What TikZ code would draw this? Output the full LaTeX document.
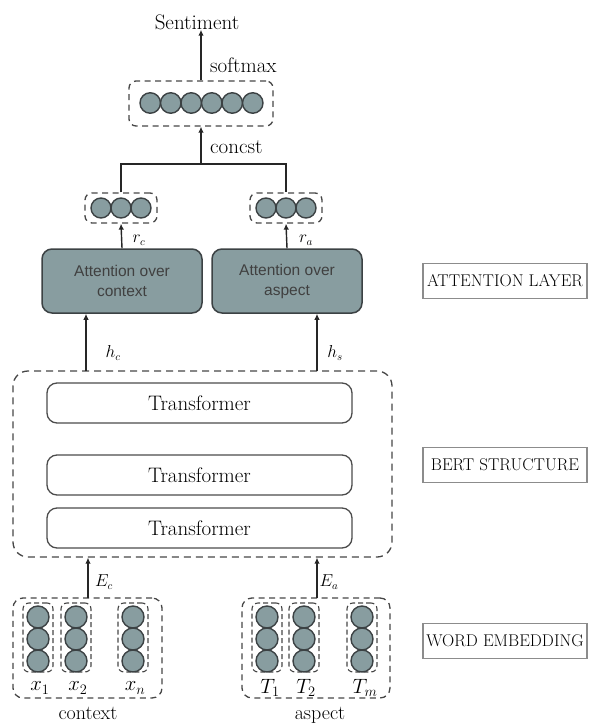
\documentclass[tikz,border=0pt]{standalone}
\usepackage{fontspec}
\newfontfamily\arialfont{Liberation Sans}
\usetikzlibrary{arrows.meta}
\definecolor{cfill}{RGB}{136,157,160}
\definecolor{cline}{RGB}{60,66,68}
\definecolor{dline}{RGB}{70,70,70}
\tikzset{
  bigtxt/.style={font=\fontsize{21}{24}\selectfont, inner sep=0pt},
  mtxt/.style={font=\fontsize{16}{19}\selectfont, inner sep=0pt},
  dbox/.style={draw=dline, line width=1.3pt, dash pattern=on 6pt off 4.5pt, rounded corners=7pt, inner sep=0pt},
  bertbox/.style={draw=dline, line width=1.3pt, dash pattern=on 7pt off 5pt, rounded corners=15pt, inner sep=0pt, minimum width=379pt, minimum height=186pt},
  cbox/.style={draw=dline, line width=1.1pt, dash pattern=on 5pt off 3pt, rounded corners=6pt, inner sep=0pt, minimum width=30pt, minimum height=69pt},
  ball/.style={circle, draw=cline, line width=1.4pt, fill=cfill, inner sep=0pt, minimum size=#1},
  ball/.default=20.5pt,
  attbox/.style={draw=cline, line width=1.5pt, fill=cfill, rounded corners=10pt, minimum height=64pt, align=center, font=\arialfont\fontsize{15.5}{20}\selectfont, text=black!75},
  tbox/.style={draw=black!70, line width=1.3pt, rounded corners=10pt, minimum width=305pt, minimum height=40pt, font=\fontsize{21}{24}\selectfont},
  lbox/.style={draw=black!45, line width=1.2pt, minimum width=164pt, minimum height=35pt, inner xsep=1pt, font=\fontsize{17}{20}\selectfont},
  arr/.style={line width=1.4pt, draw=black!85, -{Latex[length=6pt,width=5.5pt]}},
  ln/.style={line width=1.4pt, draw=black!85}
}
\begin{document}
\begin{tikzpicture}[x=1pt,y=-1pt]
\useasboundingbox (0,0) rectangle (591,725);

% top
\node[bigtxt] (sent) at (197,22) {Sentiment};
\node[dbox, minimum width=144pt, minimum height=45pt] (sbox) at (201,103.5) {};
\foreach \i in {0,...,5} {
  \node[ball] (s\i) at ({150.25+20.5*\i},103) {};
}
\draw[arr] (sbox.north) -- (sbox.north |- sent.south) coordinate (stop);
\node[bigtxt, anchor=west] (softlbl) at (210,65) {softmax};

% small boxes
\node[dbox, minimum width=72pt, minimum height=30pt] (lsm) at (121,208) {};
\foreach \i in {0,1,2} { \node[ball=20pt] (lc\i) at ({101+20*\i},208) {}; }
\node[dbox, minimum width=72pt, minimum height=30pt] (rsm) at (286,208) {};
\foreach \i in {0,1,2} { \node[ball=20pt] (rc\i) at ({266+20*\i},208) {}; }
\coordinate (cat) at (201,164);
\draw[ln] (lsm.north) |- (cat) -| (rsm.north);
\draw[arr] (cat) -- (sbox.south);
\node[bigtxt, anchor=west] (catlbl) at (210,147) {concst};

% attention boxes
\node[attbox, minimum width=160pt] (latt) at (122,281) {Attention over\\context};
\node[attbox, minimum width=150pt] (ratt) at (287,281) {Attention over\\aspect};
\draw[arr] (latt.north) -- (lsm.south);
\draw[arr] (ratt.north) -- (rsm.south);
\node[mtxt] (rclbl) at (139,240) {$r_c$};
\node[mtxt] (ralbl) at (306,240) {$r_a$};

% BERT
\node[bertbox] (bert) at (202.5,464) {};
\node[tbox] (t1) at (199.5,403) {Transformer};
\node[tbox] (t2) at (199.5,475) {Transformer};
\node[tbox] (t3) at (199.5,528) {Transformer};
\coordinate (hc) at (86,371);
\coordinate (hs) at (317,371);
\draw[arr] (hc) -- (hc |- latt.south);
\draw[arr] (hs) -- (hs |- ratt.south);
\node[mtxt] (hclbl) at (113,353) {$h_c$};
\node[mtxt] (hslbl) at (335,353) {$h_s$};

% word embedding
\node[dbox, minimum width=149pt, minimum height=100pt, rounded corners=10pt] (lwe) at (87.5,648) {};
\node[dbox, minimum width=148pt, minimum height=100pt, rounded corners=10pt] (rwe) at (316,648) {};
\foreach \n/\x in {a/38,b/76,c/133,d/267,e/304,f/362} {
  \node[cbox] (col\n) at (\x,637.5) {};
  \node[ball=22pt] (\n1) at (\x,617) {};
  \node[ball=22pt] (\n2) at (\x,639) {};
  \node[ball=22pt] (\n3) at (\x,661) {};
}
\coordinate (ec) at (88,598);
\coordinate (ea) at (317,598);
\draw[arr] (ec) -- (ec |- bert.south);
\draw[arr] (ea) -- (ea |- bert.south);
\node[mtxt] (eclbl) at (104,582) {$E_c$};
\node[mtxt] (ealbl) at (329,582) {$E_a$};

\node[bigtxt] (x1) at (40,688) {$x_1$};
\node[bigtxt] (x2) at (78,688) {$x_2$};
\node[bigtxt] (xn) at (135,688) {$x_n$};
\node[bigtxt] (T1) at (270,688) {$T_1$};
\node[bigtxt] (T2) at (306,688) {$T_2$};
\node[bigtxt] (Tm) at (365,688) {$T_m$};
\node[bigtxt, font=\fontsize{20}{23}\selectfont, anchor=base] (ctx) at (88,719) {context};
\node[bigtxt, font=\fontsize{20}{23}\selectfont, anchor=base] (asp) at (320,719) {aspect};

% right labels
\node[lbox] (l1) at (505,281) {ATTENTION LAYER};
\node[lbox] (l2) at (505,465) {BERT STRUCTURE};
\node[lbox] (l3) at (505,641) {WORD EMBEDDING};
\end{tikzpicture}
\end{document}
